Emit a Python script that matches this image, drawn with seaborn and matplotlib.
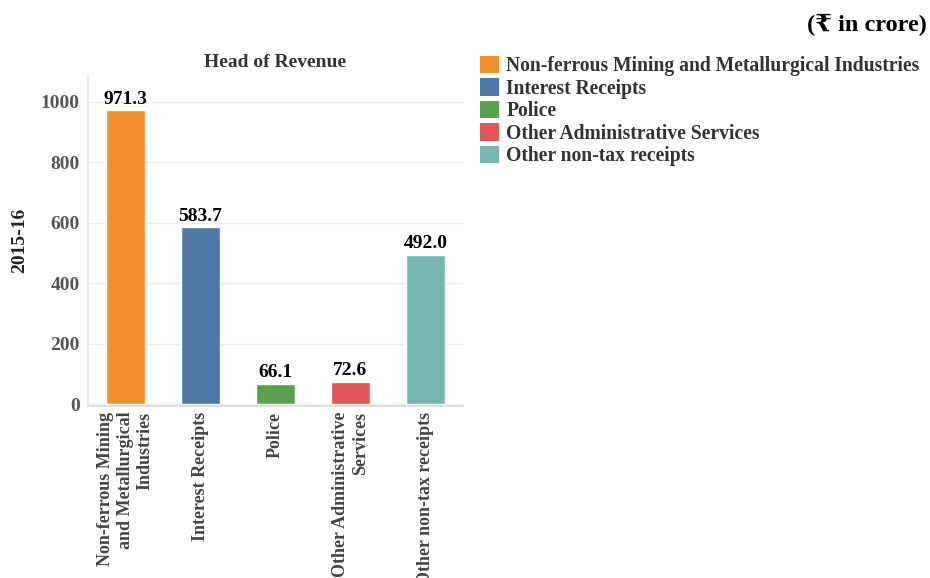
import matplotlib
matplotlib.use("Agg")
import matplotlib.pyplot as plt
import seaborn as sns
import pandas as pd
from matplotlib.patches import Patch

categories = [
    "Non-ferrous Mining and Metallurgical Industries",
    "Interest Receipts",
    "Police",
    "Other Administrative Services",
    "Other non-tax receipts",
]
tick_labels = [
    "Non-ferrous Mining\nand Metallurgical\nIndustries",
    "Interest Receipts",
    "Police",
    "Other Administrative\nServices",
    "Other non-tax receipts",
]
values_2015_16 = [971.3, 583.7, 66.1, 72.6, 492.0]
colors = ["#F28E2B", "#4E79A7", "#59A14F", "#E15759", "#76B7B2"]

sns.set_theme(style="white")
plt.rcParams["font.family"] = ["Liberation Serif", "DejaVu Serif", "DejaVu Sans"]
plt.rcParams["font.weight"] = "bold"

df = pd.DataFrame({"head": categories, "value": values_2015_16})

fig = plt.figure(figsize=(9.3, 5.78), dpi=100)
ax = fig.add_axes([88 / 930, 1 - 406 / 578, 375 / 930, 331 / 578])

sns.barplot(
    data=df, x="head", y="value", hue="head", palette=colors,
    width=0.52, legend=False, ax=ax, saturation=1,
)

ax.set_xlim(-0.5, 4.5)
ax.set_ylim(-6.6, 1088)
ax.set_yticks([0, 200, 400, 600, 800, 1000])
ax.grid(axis="y", color="#efefef", linewidth=1)
ax.set_axisbelow(True)
for side in ["top", "right"]:
    ax.spines[side].set_visible(False)
ax.spines["left"].set_color("#e6e6e6")
ax.spines["bottom"].set_color("#d9d9d9")

# value labels on bars
for cont in ax.containers:
    ax.bar_label(cont, fmt="%.1f", fontsize=14, fontweight="bold",
                 color="black", padding=2)

ax.set_xticks(range(len(tick_labels)))
ax.set_xticklabels(tick_labels, rotation=90, ha="center", va="top",
                   multialignment="right", fontsize=13, color="#444444",
                   fontweight="bold")
ax.tick_params(axis="x", length=0, pad=4)
ax.tick_params(axis="y", length=0, pad=6, labelsize=14, labelcolor="#555555")
for t in ax.get_yticklabels():
    t.set_fontweight("bold")

# separators between categories on bottom axis
ax.set_xticks([i + 0.5 for i in range(-1, 5)], minor=True)
ax.tick_params(axis="x", which="minor", length=6, color="#d9d9d9", width=1)

ax.set_xlabel("")
ax.set_ylabel("2015-16", fontsize=14, fontweight="bold", color="#222222")
ax.yaxis.set_label_coords(-0.16, 0.5)
ax.set_title("Head of Revenue", fontsize=14, fontweight="bold",
             color="#333333", pad=6)

handles = [Patch(facecolor=c, edgecolor="none") for c in colors]
fig.legend(handles, categories, loc="upper left",
           bbox_to_anchor=(472 / 930, 1 - 48 / 578), frameon=False,
           handlelength=1.0, handleheight=1.0,
           handletextpad=0.35, labelspacing=0.1, borderaxespad=0,
           prop={"weight": "bold", "size": 14.1})
for t in fig.legends[0].get_texts():
    t.set_color("#333333")

fig.text(927 / 930, 1 - 25 / 578, "(₹ in crore)", ha="right", va="center",
         fontsize=17.5, fontweight="bold", color="black")

fig.savefig("out.png", dpi=100)
